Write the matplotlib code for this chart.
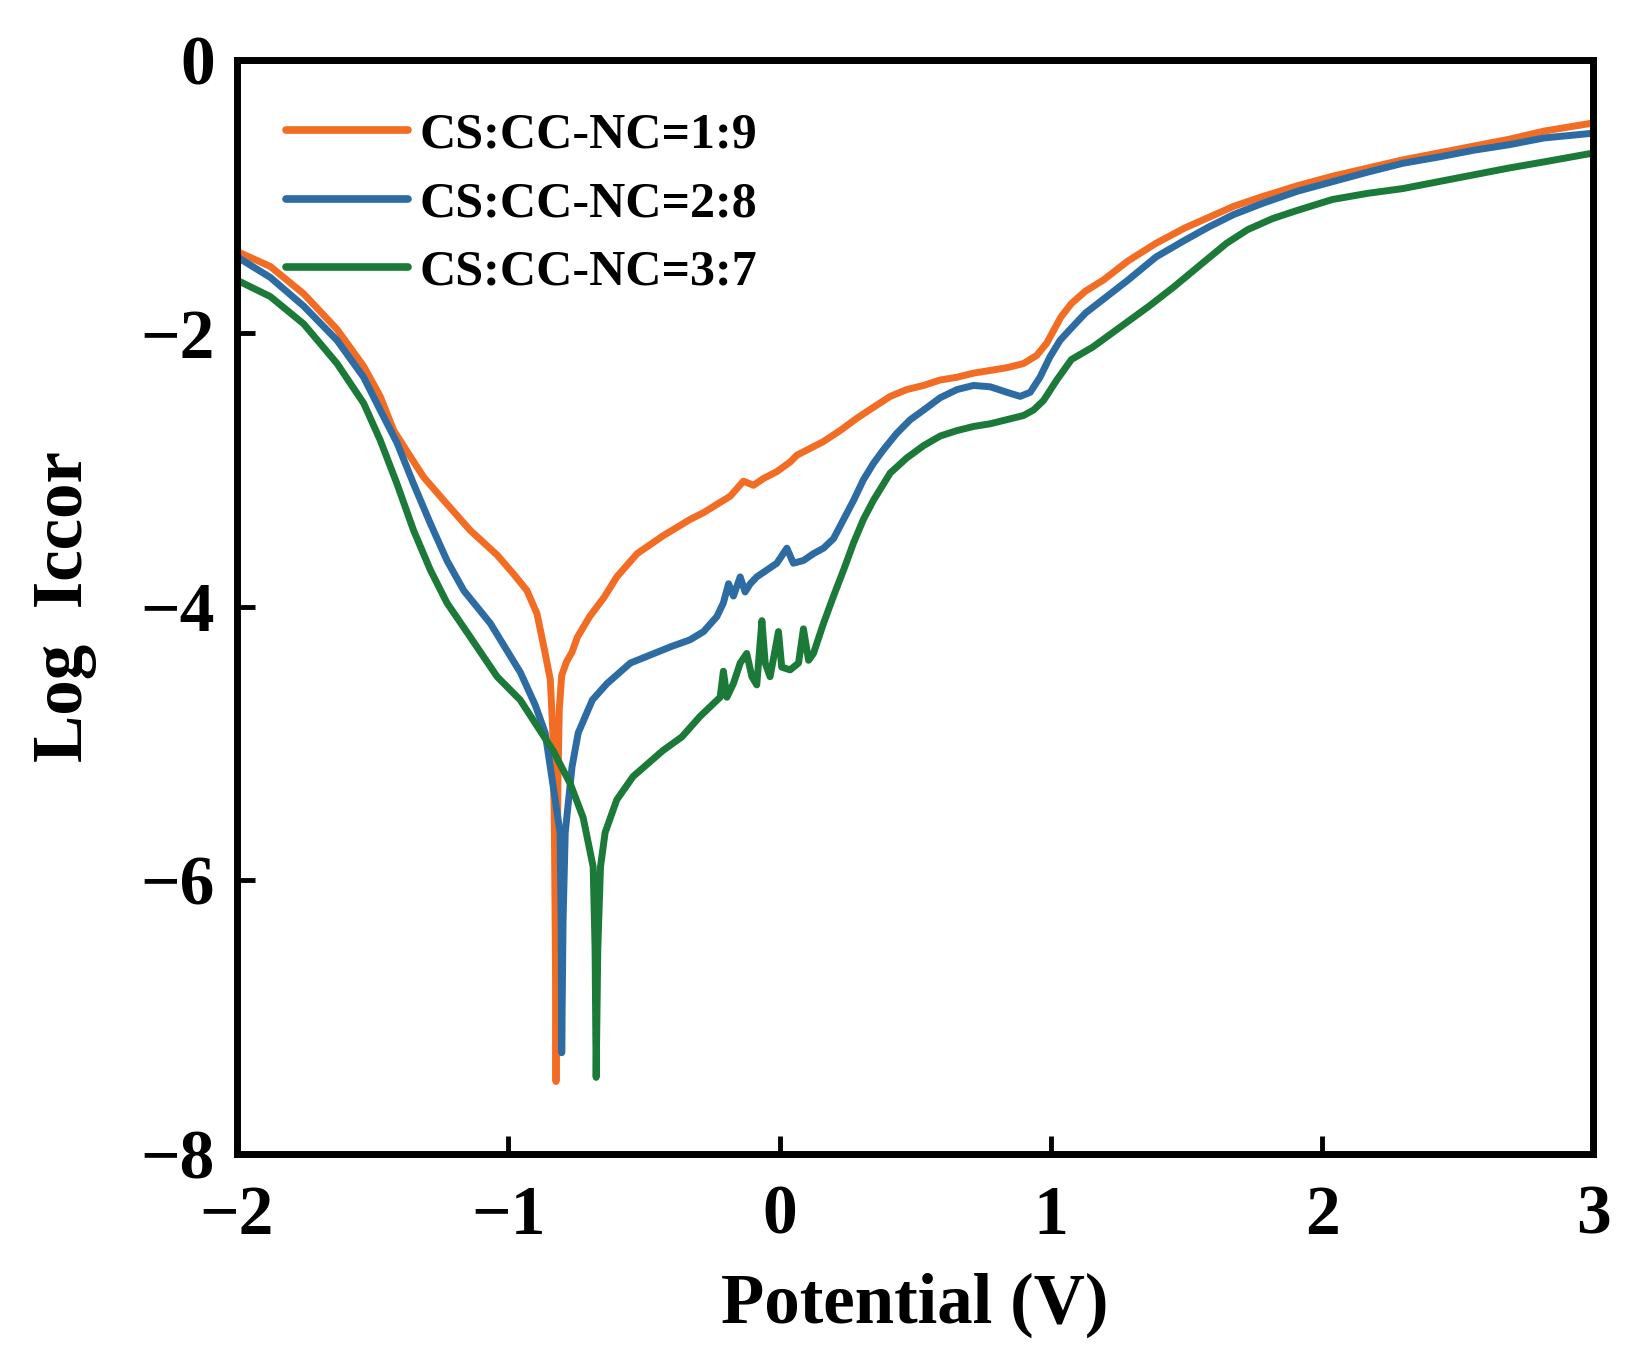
import matplotlib
matplotlib.use("Agg")
import matplotlib.pyplot as plt

# ---------------- data ----------------
labels = ["CS:CC-NC=1:9", "CS:CC-NC=2:8", "CS:CC-NC=3:7"]

x_19 = [-2.0, -1.877, -1.754, -1.631, -1.533, -1.472, -1.422, -1.361, -1.312,
        -1.238, -1.140, -1.041, -0.980, -0.931, -0.894, -0.869, -0.845,
        -0.836, -0.830, -0.826, -0.824, -0.821, -0.817, -0.812, -0.803, -0.785,
        -0.765, -0.745, -0.70, -0.647, -0.60, -0.525, -0.43,
        -0.330, -0.280, -0.231, -0.182, -0.133, -0.096, -0.059, -0.010, 0.039,
        0.064, 0.113, 0.162, 0.223, 0.285, 0.346, 0.408, 0.469, 0.531, 0.592,
        0.654, 0.715, 0.777, 0.838, 0.899, 0.948, 0.985,
        1.037, 1.076, 1.128, 1.193, 1.284, 1.388, 1.492, 1.583, 1.674, 1.778,
        1.908, 2.038, 2.168, 2.298, 2.428, 2.558, 2.688, 2.818, 3.0]
y_19 = [-1.40, -1.51, -1.71, -1.97, -2.24, -2.46, -2.71, -2.90, -3.05,
        -3.22, -3.44, -3.62, -3.76, -3.88, -4.05, -4.29, -4.53,
        -4.90, -5.60, -6.60, -7.47, -6.30, -5.30, -4.75, -4.50, -4.40,
        -4.33, -4.22, -4.07, -3.93, -3.78, -3.61, -3.48,
        -3.36, -3.31, -3.25, -3.19, -3.08, -3.11, -3.06, -3.01, -2.94,
        -2.89, -2.84, -2.79, -2.71, -2.62, -2.54, -2.46, -2.41, -2.38, -2.34,
        -2.32, -2.29, -2.27, -2.25, -2.22, -2.16, -2.07,
        -1.88, -1.78, -1.69, -1.61, -1.47, -1.34, -1.23, -1.15, -1.07, -1.00,
        -0.92, -0.85, -0.79, -0.73, -0.68, -0.63, -0.58, -0.52, -0.46]

x_28 = [-2.0, -1.877, -1.754, -1.631, -1.533, -1.472, -1.410, -1.349, -1.287,
        -1.226, -1.164, -1.066, -0.955, -0.90, -0.864, -0.827, -0.809, -0.805,
        -0.803, -0.798, -0.790, -0.765, -0.742, -0.69, -0.636, -0.55, -0.40,
        -0.330, -0.280, -0.231, -0.207, -0.188, -0.170, -0.145, -0.127, -0.108,
        -0.084, -0.047, -0.010, 0.027, 0.051, 0.088, 0.125, 0.162, 0.199, 0.236,
        0.273, 0.309, 0.346, 0.383, 0.432, 0.482, 0.531, 0.592, 0.654, 0.715,
        0.777, 0.838, 0.887, 0.924, 0.960, 0.997, 1.034, 1.071,
        1.128, 1.193, 1.284, 1.388, 1.492, 1.583, 1.674, 1.778, 1.908, 2.038,
        2.168, 2.298, 2.428, 2.558, 2.688, 2.818, 3.0]
y_28 = [-1.44, -1.59, -1.80, -2.05, -2.32, -2.56, -2.80, -3.10, -3.39,
        -3.66, -3.88, -4.12, -4.48, -4.72, -4.92, -5.41, -5.65, -6.30,
        -7.26, -6.30, -5.65, -5.17, -4.92, -4.68, -4.56, -4.41, -4.29,
        -4.24, -4.18, -4.07, -3.97, -3.83, -3.92, -3.78, -3.89, -3.83,
        -3.78, -3.73, -3.68, -3.57, -3.68, -3.66, -3.61, -3.57, -3.50, -3.36,
        -3.22, -3.07, -2.95, -2.85, -2.73, -2.63, -2.56, -2.47, -2.41, -2.38,
        -2.39, -2.43, -2.46, -2.43, -2.32, -2.17, -2.05, -1.97,
        -1.85, -1.75, -1.61, -1.44, -1.32, -1.22, -1.13, -1.05, -0.96, -0.89,
        -0.82, -0.755, -0.71, -0.66, -0.62, -0.57, -0.535]

x_37 = [-2.0, -1.877, -1.754, -1.631, -1.533, -1.472, -1.410, -1.349, -1.287,
        -1.226, -1.140, -1.041, -0.956, -0.835, -0.772, -0.724, -0.687, -0.680,
        -0.676, -0.670, -0.66, -0.643, -0.60, -0.54, -0.43, -0.36,
        -0.293, -0.256, -0.219, -0.207, -0.194, -0.170, -0.145, -0.121, -0.102,
        -0.084, -0.065, -0.053, -0.035, -0.016, -0.004, 0.008, 0.039, 0.070,
        0.088, 0.107, 0.125, 0.162, 0.199, 0.236, 0.273, 0.309, 0.346, 0.408,
        0.469, 0.531, 0.592, 0.654, 0.715, 0.777, 0.838, 0.899, 0.936, 0.973,
        1.022, 1.076, 1.154, 1.258, 1.362, 1.453, 1.544, 1.648, 1.726, 1.817,
        1.908, 2.038, 2.168, 2.298, 2.428, 2.558, 2.688, 2.818, 3.0]
y_37 = [-1.61, -1.73, -1.93, -2.22, -2.51, -2.78, -3.10, -3.44, -3.73,
        -3.97, -4.22, -4.51, -4.68, -5.05, -5.29, -5.54, -5.90, -6.50,
        -7.44, -6.50, -5.90, -5.65, -5.41, -5.24, -5.05, -4.95,
        -4.80, -4.73, -4.66, -4.47, -4.66, -4.56, -4.41, -4.34, -4.51,
        -4.57, -4.10, -4.41, -4.51, -4.31, -4.18, -4.44, -4.46, -4.41,
        -4.16, -4.39, -4.34, -4.12, -3.92, -3.73, -3.53, -3.36, -3.22, -3.02,
        -2.91, -2.82, -2.75, -2.71, -2.68, -2.66, -2.63, -2.60, -2.56, -2.49,
        -2.34, -2.19, -2.10, -1.95, -1.80, -1.66, -1.51, -1.34, -1.24, -1.16,
        -1.10, -1.02, -0.975, -0.94, -0.89, -0.84, -0.79, -0.745, -0.68]

colors = ["#F26C23", "#2D6BA3", "#1C7A38"]

x_ticks = [-2, -1, 0, 1, 2, 3]
y_ticks = [0, -2, -4, -6, -8]

# ---------------- figure ----------------
plt.rcParams["font.family"] = ["Liberation Serif", "DejaVu Serif"]
plt.rcParams["font.weight"] = "bold"

fig = plt.figure(figsize=(16.49, 13.70), dpi=100)
ax = fig.add_axes([0.1437, 0.1577, 0.8226, 0.7985])

for xs, ys, c, lab in zip([x_19, x_28, x_37], [y_19, y_28, y_37], colors, labels):
    ax.plot(xs, ys, color=c, lw=5.0, label=lab,
            solid_joinstyle="round", solid_capstyle="round")

ax.set_xlim(-2, 3)
ax.set_ylim(-8, 0)
ax.set_xticks(x_ticks)
ax.set_yticks(y_ticks)
ax.set_xticklabels([("\u2212%d" % -t) if t < 0 else str(t) for t in x_ticks])
ax.set_yticklabels([("\u2212%d" % -t) if t < 0 else str(t) for t in y_ticks])

for sp in ax.spines.values():
    sp.set_linewidth(5.0)

ax.tick_params(axis="both", direction="in", length=13, width=3.5,
               labelsize=50, top=False, right=False)
ax.tick_params(axis="x", pad=22)
ax.tick_params(axis="y", pad=16)
for t in ax.get_xticklabels() + ax.get_yticklabels():
    t.set_fontweight("bold")

ax.set_xlabel("Potential (V)", fontsize=51, fontweight="bold")
ax.set_ylabel("Log  Iccor", fontsize=51, fontweight="bold")
ax.xaxis.set_label_coords(0.5, -0.138)
ax.xaxis.label.set_va("center")
ax.yaxis.set_label_coords(-0.127, 0.5)
ax.yaxis.label.set_va("center")

leg = ax.legend(loc="upper left", bbox_to_anchor=(0.036, 0.952), frameon=False,
                fontsize=36, handlelength=2.45, handletextpad=0.22,
                labelspacing=0.45, borderpad=0, borderaxespad=0)
for line in leg.get_lines():
    line.set_linewidth(5.5)
    line.set_solid_capstyle("round")
for t in leg.get_texts():
    t.set_fontweight("bold")

fig.savefig("out.png", dpi=100)
